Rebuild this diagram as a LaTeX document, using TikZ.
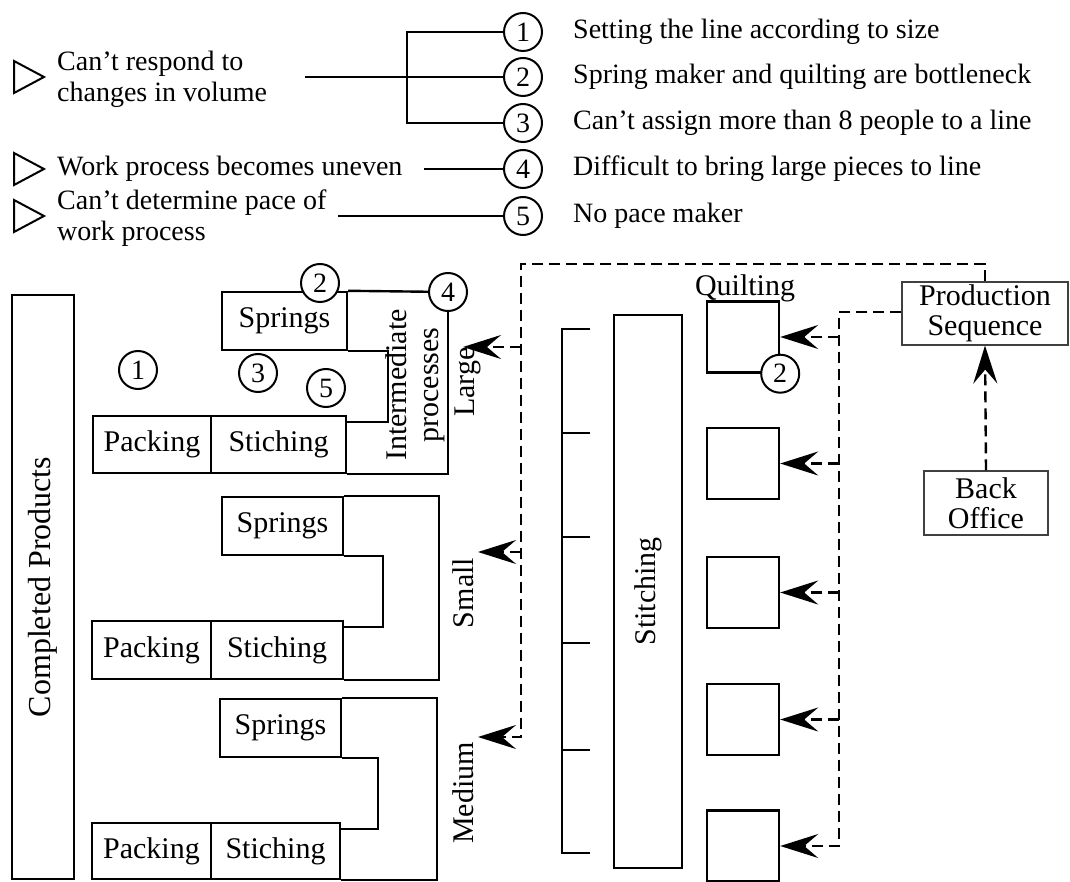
\documentclass[tikz,border=0pt]{standalone}
\usepackage{fontspec}
\setmainfont{Liberation Serif}
\usetikzlibrary{arrows.meta}
\begin{document}
\begin{tikzpicture}[x=1pt,y=-1pt,
  line width=2.4pt,
  every node/.style={inner sep=0pt, font=\fontsize{30}{32}\selectfont},
  legend/.style={font=\fontsize{28}{31}\selectfont},
  box/.style={draw, line width=2.4pt},
  thinbox/.style={draw=black!75, line width=1.1pt},
  num/.style={draw, circle, line width=2pt, minimum size=38pt, fill=white, font=\fontsize{28}{30}\selectfont},
  marker/.style={line width=2pt, line join=miter},
  flow/.style={dash pattern=on 11pt off 6pt, line width=2.4pt},
  tip/.style={-{Stealth[length=38pt, width=24pt, inset=14pt]}},
]
\useasboundingbox (0,0) rectangle (1070,882);

% ---------------- legend: problems and their causes ----------------
\node[num] (c1) at (523,32) {1};
\node[num] (c2) at (523,77) {2};
\node[num] (c3) at (523,123) {3};
\node[num] (c4) at (523,169) {4};
\node[num] (c5) at (523,216) {5};

\node[legend, anchor=west] (t1) at (572,32) {Setting the line according to size};
\node[legend, anchor=west] (t2) at (572,77) {Spring maker and quilting are bottleneck};
\node[legend, anchor=west] (t3) at (572,123) {Can’t assign more than 8 people to a line};
\node[legend, anchor=west] (t4) at (572,169) {Difficult to bring large pieces to line};
\node[legend, anchor=west] (t5) at (572,216) {No pace maker};

\draw[marker] (14,61) -- (44,77) -- (14,93) -- cycle;
\draw[marker] (14,153) -- (44,169) -- (14,185) -- cycle;
\draw[marker] (14,200) -- (44,216) -- (14,232) -- cycle;

\node[legend, anchor=west, align=left] (p1) at (56,79) {Can’t respond to\\changes in volume};
\node[legend, anchor=west] (p2) at (56,169) {Work process becomes uneven};
\node[legend, anchor=west, align=left] (p3) at (56,218) {Can’t determine pace of\\work process};

\coordinate (b1) at (305,77);
\coordinate (br) at (407,0);
\coordinate (b4) at (424,169);
\coordinate (b5) at (338,216);
\draw (b1) -- (c2);
\draw (c1) -- (c1 -| br) -- (c3 -| br) -- (c3);
\draw (b4) -- (c4);
\draw (b5) -- (c5);

% ---------------- finished goods ----------------
\node[box, rotate=90, minimum width=584pt, minimum height=62pt, font=\fontsize{32}{34}\selectfont] (cp) at (43,587) {Completed Products};

% ---------------- large line ----------------
\node[box, minimum width=125pt, minimum height=58pt] (spL) at (284.5,321) {Springs};
\node[box, minimum width=118pt, minimum height=57pt] (pkL) at (152,444.5) {Packing};
\node[box, minimum width=135pt, minimum height=57pt] (stL) at (278.5,444.5) {Stiching};
\node[num] (c4L) at (448,292) {4};
\draw (spL.north east) -- (c4L);
\draw (c4L) |- (stL.south east);
\coordinate (iL) at (388,422);
\draw (spL.south east) -| (iL) -- (iL -| stL.east);
\node[rotate=90, align=center, font=\fontsize{30}{32}\selectfont] (imL) at (415,385) {Intermediate\\processes};
\node[rotate=90] (lgL) at (468,382) {Large};
\node[num] (n2) at (320,283) {2};
\node[num] (n1) at (138,370) {1};
\node[num] (n3) at (258,373) {3};
\node[num] (n5) at (326,388) {5};

% ---------------- small line ----------------
\node[box, minimum width=121pt, minimum height=58pt] (spS) at (282.5,526) {Springs};
\node[box, minimum width=119pt, minimum height=58pt] (pkS) at (151.5,650) {Packing};
\node[box, minimum width=132pt, minimum height=58pt] (stS) at (277,650) {Stiching};
\coordinate (oS) at (439,0);
\draw (spS.north east) -- (spS.north east -| oS) |- (stS.south east);
\coordinate (iS) at (383,627);
\draw (spS.south east) -| (iS) -- (iS -| stS.east);
\node[rotate=90] (smS) at (463,593) {Small};

% ---------------- medium line ----------------
\node[box, minimum width=121pt, minimum height=58pt] (spM) at (280.5,728) {Springs};
\node[box, minimum width=119pt, minimum height=56pt] (pkM) at (151.5,851) {Packing};
\node[box, minimum width=129pt, minimum height=56pt] (stM) at (275.5,851) {Stiching};
\coordinate (oM) at (437,0);
\draw (spM.north east) -- (spM.north east -| oM) |- (stM.south east);
\coordinate (iM) at (378,829);
\draw (spM.south east) -| (iM) -- (iM -| stM.east);
\node[rotate=90] (mdM) at (463,793) {Medium};

% ---------------- stitching and quilting ----------------
\draw (590,329) -- (562,329) -- (562,853) -- (590,853);
\foreach \yy in {433,537,643,750} \draw (562,\yy) -- (590,\yy);
\node[box, rotate=90, minimum width=553pt, minimum height=68pt] (st) at (648,591.5) {Stitching};

\node[box, minimum width=72pt, minimum height=71pt] (q1) at (743,337) {};
\node[box, minimum width=72pt, minimum height=71pt] (q2) at (743,463.5) {};
\node[box, minimum width=72pt, minimum height=71pt] (q3) at (743,592.5) {};
\node[box, minimum width=72pt, minimum height=71pt] (q4) at (743,719.5) {};
\node[box, minimum width=72pt, minimum height=71pt] (q5) at (743,846) {};
\node[anchor=base] (ql) at (745,296) {Quilting};
\node[num] (c2R) at (q1.south east) {2};

% ---------------- planning ----------------
\node[thinbox, minimum width=166pt, minimum height=63pt, align=center, font=\fontsize{30}{30}\selectfont] (ps) at (985,313.5) {Production\\Sequence};
\node[thinbox, minimum width=124pt, minimum height=64pt, align=center, font=\fontsize{30}{30}\selectfont] (bo) at (986,503) {Back\\Office};

% ---------------- information flow ----------------
\coordinate (dT) at (521,264);
\coordinate (aL) at (463,347);
\coordinate (aS) at (478,552);
\coordinate (aM) at (478,737);
\draw[flow,tip] (ps.north) |- (dT) -- (dT |- aM) -- (aM);
\draw[flow,tip] (dT |- aL) -- (aL);
\draw[flow,tip] (dT |- aS) -- (aS);

\coordinate (bus) at (839,312);
\draw[flow,tip] (ps.west |- bus) -- (bus) -- (bus |- q5.east) -- (q5.east);
\foreach \q in {q1,q2,q3,q4} \draw[flow,tip] (bus |- \q.east) -- (\q.east);

\draw[flow,tip] (bo.north) -- (ps.south);
\end{tikzpicture}
\end{document}
